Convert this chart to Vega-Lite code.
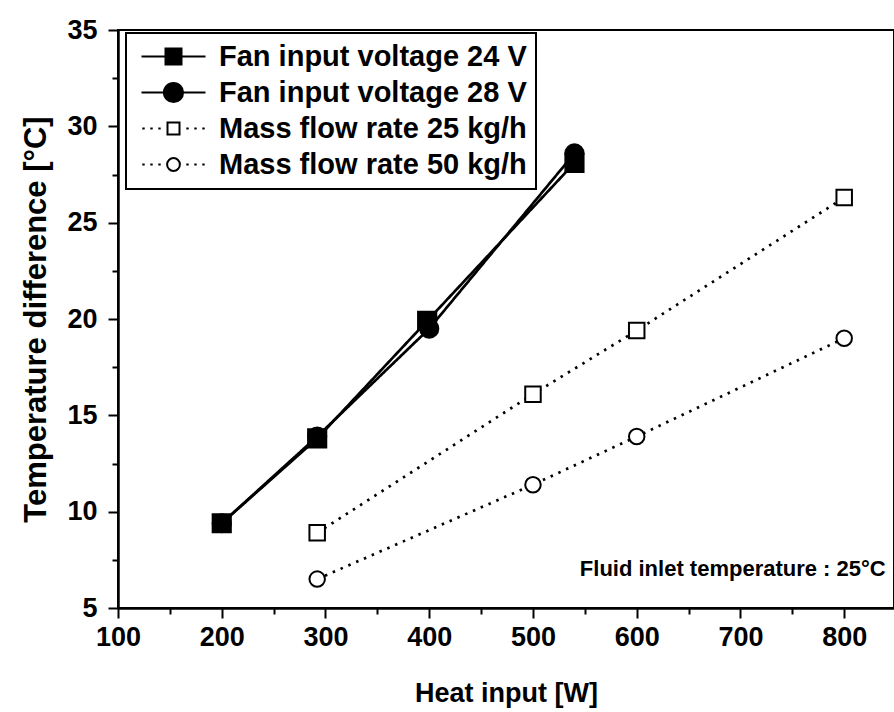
{
  "$schema": "https://vega.github.io/schema/vega-lite/v6.json",
  "width": 776,
  "height": 578,
  "autosize": {"type": "none"},
  "padding": {"left": 118, "top": 30, "right": 0, "bottom": 104},
  "background": "white",
  "config": {
    "font": "Liberation Sans",
    "view": {"stroke": "black", "strokeWidth": 2},
    "axis": {
      "grid": false,
      "domainColor": "black",
      "domainWidth": 2.5,
      "tickColor": "black",
      "tickWidth": 2,
      "labelFont": "Liberation Sans",
      "labelFontSize": 27,
      "labelFontWeight": "bold",
      "labelColor": "black",
      "labelOverlap": false,
      "labelFlush": false,
      "titleFont": "Liberation Sans",
      "titleFontSize": 27,
      "titleFontWeight": "bold",
      "titleColor": "black"
    },
    "legend": {"strokeWidth": 2}
  },
  "datasets": {
    "pts": [
      {"series": "Fan input voltage 24 V", "heat": 200, "temp": 9.4},
      {"series": "Fan input voltage 24 V", "heat": 292, "temp": 13.8},
      {"series": "Fan input voltage 24 V", "heat": 398, "temp": 19.9},
      {"series": "Fan input voltage 24 V", "heat": 540, "temp": 28.1},
      {"series": "Fan input voltage 28 V", "heat": 200, "temp": 9.4},
      {"series": "Fan input voltage 28 V", "heat": 292, "temp": 13.9},
      {"series": "Fan input voltage 28 V", "heat": 400, "temp": 19.5},
      {"series": "Fan input voltage 28 V", "heat": 540, "temp": 28.6},
      {"series": "Mass flow rate 25 kg/h", "heat": 292, "temp": 8.9},
      {"series": "Mass flow rate 25 kg/h", "heat": 500, "temp": 16.1},
      {"series": "Mass flow rate 25 kg/h", "heat": 600, "temp": 19.4},
      {"series": "Mass flow rate 25 kg/h", "heat": 800, "temp": 26.3},
      {"series": "Mass flow rate 50 kg/h", "heat": 292, "temp": 6.5},
      {"series": "Mass flow rate 50 kg/h", "heat": 500, "temp": 11.4},
      {"series": "Mass flow rate 50 kg/h", "heat": 600, "temp": 13.9},
      {"series": "Mass flow rate 50 kg/h", "heat": 800, "temp": 19.0}
    ]
  },
  "layer": [
    {
      "data": {"name": "pts"},
      "mark": {"type": "line", "stroke": "black", "strokeWidth": 2.7, "strokeCap": "butt"},
      "encoding": {
        "x": {
          "field": "heat", "type": "quantitative",
          "scale": {"domain": [100, 848], "nice": false, "zero": false},
          "axis": {
            "title": "Heat input [W]",
            "values": [100, 150, 200, 250, 300, 350, 400, 450, 500, 550, 600, 650, 700, 750, 800],
            "labelExpr": "datum.value % 100 === 0 ? datum.label : ''",
            "tickSize": {"condition": {"test": "datum.value % 100 === 0", "value": 10}, "value": 6},
            "labelPadding": 6,
            "titlePadding": 30
          }
        },
        "y": {
          "field": "temp", "type": "quantitative",
          "scale": {"domain": [5, 35], "nice": false, "zero": false},
          "axis": {
            "title": "Temperature difference [°C]",
            "titleFontSize": 31,
            "values": [5, 7.5, 10, 12.5, 15, 17.5, 20, 22.5, 25, 27.5, 30, 32.5, 35],
            "labelExpr": "datum.value % 5 === 0 ? datum.label : ''",
            "tickSize": {"condition": {"test": "datum.value % 5 === 0", "value": 10}, "value": 6},
            "labelPadding": 11,
            "titlePadding": 14
          }
        },
        "detail": {"field": "series", "type": "nominal"},
        "strokeDash": {
          "condition": {"test": "datum.series === 'Mass flow rate 25 kg/h' || datum.series === 'Mass flow rate 50 kg/h'", "value": [2.5, 6]},
          "value": [1, 0]
        }
      }
    },
    {
      "data": {"name": "pts"},
      "mark": {"type": "point", "filled": true, "opacity": 1, "stroke": "black", "strokeWidth": 2},
      "encoding": {
        "x": {"field": "heat", "type": "quantitative"},
        "y": {"field": "temp", "type": "quantitative"},
        "shape": {
          "condition": {"test": "datum.series === 'Fan input voltage 28 V' || datum.series === 'Mass flow rate 50 kg/h'", "value": "circle"},
          "value": "square"
        },
        "fill": {
          "condition": {"test": "datum.series === 'Fan input voltage 24 V' || datum.series === 'Fan input voltage 28 V'", "value": "black"},
          "value": "white"
        },
        "size": {
          "condition": {"test": "datum.series === 'Fan input voltage 24 V' || datum.series === 'Fan input voltage 28 V'", "value": 330},
          "value": 240
        }
      }
    },
    {
      "data": {"values": [{"heat": 840, "temp": 7.0, "note": "Fluid inlet temperature : 25°C"}]},
      "mark": {"type": "text", "align": "right", "baseline": "middle", "font": "Liberation Sans", "fontSize": 22, "fontWeight": "bold", "color": "black"},
      "encoding": {
        "x": {"field": "heat", "type": "quantitative"},
        "y": {"field": "temp", "type": "quantitative"},
        "text": {"field": "note", "type": "nominal"}
      }
    },
    {
      "data": {"name": "pts"},
      "mark": {"type": "point", "filled": false, "opacity": 0, "color": "black", "strokeWidth": 2, "size": 256},
      "encoding": {
        "x": {"field": "heat", "type": "quantitative"},
        "y": {"field": "temp", "type": "quantitative"},
        "shape": {
          "field": "series", "type": "nominal",
          "scale": {
            "domain": ["Fan input voltage 24 V", "Fan input voltage 28 V", "Mass flow rate 25 kg/h", "Mass flow rate 50 kg/h"],
            "range": [
              "M-1,0H7M2,-1H4V1H2ZM2,-0.75H4M2,-0.5H4M2,-0.25H4M2,0.25H4M2,0.5H4M2,0.75H4",
              "M-1,0H7M1.8,0A1.2,1.2 0 1,0 4.2,0A1.2,1.2 0 1,0 1.8,0ZM1.83,-0.25H4.17M1.83,0.25H4.17M1.91,-0.5H4.09M1.91,0.5H4.09M2.06,-0.75H3.94M2.06,0.75H3.94M2.34,-1H3.66M2.34,1H3.66",
              "M-0.9,0H-0.6M0.1,0H0.4M1.1,0H1.4M2.25,-0.75H3.75V0.75H2.25ZM4.6,0H4.9M5.6,0H5.9M6.6,0H6.9",
              "M-0.9,0H-0.6M0.1,0H0.4M1.1,0H1.4M2.2,0A0.8,0.8 0 1,0 3.8,0A0.8,0.8 0 1,0 2.2,0ZM4.6,0H4.9M5.6,0H5.9M6.6,0H6.9"
            ]
          },
          "legend": {
            "title": null, "orient": "none", "legendX": 8, "legendY": 3,
            "labelFont": "Liberation Sans", "labelFontSize": 29, "labelFontWeight": "bold", "labelColor": "black", "labelLimit": 600,
            "symbolSize": 256, "symbolStrokeWidth": 2, "symbolStrokeColor": "black", "symbolFillColor": "transparent", "symbolOpacity": 1,
            "labelOffset": 55, "rowPadding": 6, "padding": 9, "strokeColor": "black"
          }
        }
      }
    }
  ]
}
